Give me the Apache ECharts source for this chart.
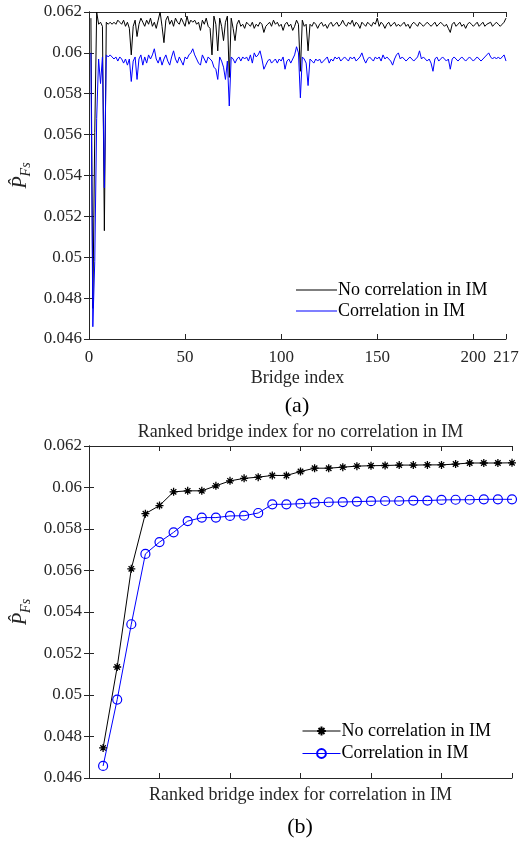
<!DOCTYPE html>
<html>
<head>
<meta charset="utf-8">
<script src="https://cdn.jsdelivr.net/npm/echarts@6/dist/echarts.min.js"></script>
<style>html,body{margin:0;padding:0;background:#fff;}#c{width:523px;height:842px;}</style>
</head>
<body>
<div id="c"></div>
<script>
// ---- Data (a): P_Fs per bridge, index 1..217 ----
const noCorrA = [
0.0617,0.0475,0.0561,0.0620,0.0614,0.0615,0.0613,0.0513,0.0615,0.0614,
0.0615,0.0614,0.0615,0.0614,0.0616,0.0615,0.0614,0.0616,0.0613,0.0615,
0.0612,0.0599,0.0613,0.0616,0.0608,0.0614,0.0617,0.0615,0.0613,0.0616,
0.0614,0.0617,0.0613,0.0615,0.0612,0.0616,0.0620,0.0613,0.0605,0.0616,
0.0618,0.0614,0.0616,0.0613,0.0617,0.0615,0.0614,0.0617,0.0615,0.0613,
0.0618,0.0614,0.0616,0.0615,0.0616,0.0614,0.0615,0.0611,0.0616,0.0614,
0.0617,0.0613,0.0612,0.0599,0.0618,0.0614,0.0601,0.0617,0.0613,0.0606,
0.0615,0.0618,0.0588,0.0617,0.0612,0.0606,0.0614,0.0616,0.0613,0.0614,
0.0612,0.0615,0.0614,0.0613,0.0615,0.0612,0.0614,0.0613,0.0615,0.0614,
0.0610,0.0613,0.0614,0.0615,0.0613,0.0616,0.0614,0.0615,0.0613,0.0614,
0.0611,0.0614,0.0615,0.0613,0.0614,0.0611,0.0613,0.0616,0.0614,0.0591,
0.0616,0.0613,0.0614,0.0601,0.0614,0.0613,0.0615,0.0614,0.0612,0.0614,
0.0615,0.0613,0.0614,0.0612,0.0614,0.0615,0.0613,0.0614,0.0615,0.0613,
0.0614,0.0616,0.0614,0.0613,0.0615,0.0614,0.0616,0.0613,0.0615,0.0614,
0.0612,0.0615,0.0614,0.0613,0.0615,0.0614,0.0613,0.0615,0.0614,0.0617,
0.0613,0.0615,0.0614,0.0612,0.0614,0.0615,0.0613,0.0614,0.0615,0.0613,
0.0614,0.0613,0.0614,0.0615,0.0613,0.0614,0.0612,0.0614,0.0615,0.0614,
0.0613,0.0615,0.0614,0.0613,0.0614,0.0615,0.0614,0.0613,0.0614,0.0615,
0.0613,0.0614,0.0615,0.0614,0.0613,0.0614,0.0612,0.0610,0.0614,0.0615,
0.0613,0.0614,0.0615,0.0613,0.0614,0.0612,0.0614,0.0615,0.0614,0.0613,
0.0614,0.0615,0.0613,0.0614,0.0615,0.0613,0.0614,0.0614,0.0615,0.0613,
0.0614,0.0615,0.0614,0.0613,0.0614,0.0615,0.0617
];
const corrA = [
0.0600,0.0466,0.0498,0.0568,0.0597,0.0585,0.0598,0.0534,0.0599,0.0598,
0.0599,0.0598,0.0597,0.0598,0.0596,0.0598,0.0597,0.0595,0.0597,0.0594,
0.0597,0.0586,0.0596,0.0598,0.0587,0.0597,0.0599,0.0594,0.0598,0.0595,
0.0599,0.0597,0.0599,0.0602,0.0597,0.0595,0.0598,0.0594,0.0597,0.0599,
0.0596,0.0594,0.0598,0.0601,0.0597,0.0595,0.0598,0.0596,0.0594,0.0598,
0.0597,0.0599,0.0600,0.0602,0.0599,0.0597,0.0595,0.0594,0.0599,0.0597,
0.0595,0.0598,0.0597,0.0596,0.0593,0.0592,0.0587,0.0598,0.0596,0.0593,
0.0587,0.0596,0.0574,0.0598,0.0597,0.0595,0.0597,0.0598,0.0596,0.0598,
0.0597,0.0598,0.0596,0.0599,0.0595,0.0600,0.0598,0.0599,0.0601,0.0597,
0.0592,0.0594,0.0596,0.0597,0.0595,0.0596,0.0597,0.0595,0.0597,0.0596,
0.0598,0.0592,0.0596,0.0597,0.0595,0.0597,0.0599,0.0603,0.0600,0.0578,
0.0598,0.0597,0.0595,0.0584,0.0597,0.0596,0.0595,0.0597,0.0596,0.0597,
0.0595,0.0596,0.0597,0.0598,0.0595,0.0597,0.0596,0.0598,0.0597,0.0598,
0.0596,0.0597,0.0598,0.0597,0.0596,0.0598,0.0597,0.0598,0.0596,0.0597,
0.0598,0.0600,0.0597,0.0595,0.0597,0.0598,0.0597,0.0596,0.0598,0.0597,
0.0598,0.0596,0.0599,0.0597,0.0598,0.0597,0.0596,0.0594,0.0597,0.0599,
0.0600,0.0597,0.0598,0.0597,0.0596,0.0597,0.0598,0.0597,0.0596,0.0597,
0.0598,0.0601,0.0597,0.0598,0.0597,0.0596,0.0597,0.0595,0.0591,0.0597,
0.0598,0.0596,0.0597,0.0598,0.0597,0.0596,0.0597,0.0592,0.0597,0.0598,
0.0597,0.0596,0.0597,0.0598,0.0597,0.0596,0.0597,0.0598,0.0597,0.0596,
0.0597,0.0598,0.0597,0.0596,0.0597,0.0598,0.0599,0.0600,0.0598,0.0597,
0.0598,0.0597,0.0598,0.0597,0.0598,0.0599,0.0596
];
// ---- Data (b): ranked values, rank 1..30 ----
const rankIdx = [1,2,3,4,5,6,7,8,9,10,11,12,13,14,15,16,17,18,19,20,21,22,23,24,25,26,27,28,29,30];
const noCorrB = [0.04745,0.05135,0.05608,0.05874,0.05913,0.05979,0.05984,0.05984,0.06008,0.06032,
0.06044,0.06050,0.06058,0.06058,0.06077,0.06093,0.06093,0.06098,0.06103,0.06105,
0.06106,0.06108,0.06108,0.06109,0.06109,0.06113,0.06118,0.06118,0.06118,0.06119];
const corrB = [0.04658,0.04978,0.05341,0.05680,0.05737,0.05784,0.05838,0.05855,0.05855,0.05863,
0.05864,0.05877,0.05919,0.05919,0.05922,0.05926,0.05929,0.05930,0.05932,0.05934,
0.05935,0.05935,0.05937,0.05937,0.05940,0.05941,0.05941,0.05943,0.05943,0.05943];
const yTicks = [0.046,0.048,0.05,0.052,0.054,0.056,0.058,0.06,0.062];
const nameNo = 'No correlation in IM';
const nameCo = 'Correlation in IM';

const bridgeIdx = noCorrA.map((_, i) => i + 1);
const FONT = 'Liberation Serif';
const AX = '#262626';

const yFmt = v => String(Number(v.toFixed(3)));
function yAx(grid, left) {
  return {
    type: 'value', gridIndex: grid, position: left ? 'left' : 'right',
    min: yTicks[0], max: yTicks[yTicks.length - 1], interval: 0.002,
    axisLine: { show: true, lineStyle: { color: AX, width: 1 } },
    axisTick: { show: true, inside: true, length: 5, lineStyle: { color: AX } },
    axisLabel: { show: left, formatter: yFmt, fontFamily: FONT, fontSize: 17, color: AX, margin: 7 },
    splitLine: { show: false },
    name: left ? '{p|P\u0302}{s|Fs}' : '',
    nameLocation: 'middle', nameRotate: 90, nameGap: 40,
    nameTextStyle: { rich: {
      p: { fontFamily: FONT, fontStyle: 'italic', fontSize: 20, lineHeight: 24, color: AX },
      s: { fontFamily: FONT, fontStyle: 'italic', fontSize: 14, lineHeight: 10, verticalAlign: 'bottom', color: AX }
    } }
  };
}
function xAx(grid, pos, opt) {
  return Object.assign({
    type: 'value', gridIndex: grid, position: pos,
    axisLine: { show: true, onZero: false, lineStyle: { color: AX, width: 1 } },
    axisTick: { show: true, inside: true, length: 5, lineStyle: { color: AX } },
    axisLabel: { show: false },
    splitLine: { show: false },
    nameLocation: 'middle',
    nameTextStyle: { fontFamily: FONT, fontSize: 18, color: AX }
  }, opt);
}
const starPath = 'path://M0,5L10,5M5,0L5,10M1.6,1.6L8.4,8.4M8.4,1.6L1.6,8.4';
const lineIcon = 'path://M0,0L41,0L41,1.2L0,1.2Z';

const chart = echarts.init(document.getElementById('c'), null, { renderer: 'canvas' });
chart.setOption({
  animation: false,
  backgroundColor: '#fff',
  grid: [
    { left: 89, right: 17, top: 12, bottom: 503 },
    { left: 89, right: 11, top: 446, bottom: 64 }
  ],
  xAxis: [
    xAx(0, 'bottom', { min: 0, max: 217, interval: 50, name: 'Bridge index', nameGap: 30,
      axisLabel: { show: true, fontFamily: FONT, fontSize: 17, color: AX, margin: 10, showMaxLabel: true } }),
    xAx(0, 'top', { min: 0, max: 217, interval: 50 }),
    xAx(1, 'bottom', { min: 0, max: 30, interval: 5, name: 'Ranked bridge index for correlation in IM', nameGap: 8 }),
    xAx(1, 'top', { min: 0, max: 30, interval: 5, name: 'Ranked bridge index for no correlation in IM', nameGap: 5 })
  ],
  yAxis: [yAx(0, true), yAx(0, false), yAx(1, true), yAx(1, false)],
  legend: [
    { orient: 'vertical', left: 296, top: 281, padding: 0, itemWidth: 41, itemHeight: 14, itemGap: 3,
      data: [{ name: nameNo, icon: lineIcon }, { name: nameCo, icon: lineIcon }], selectedMode: false,
      textStyle: { fontFamily: FONT, fontSize: 18, color: '#000', padding: [0, 0, 0, -4] } },
    { orient: 'vertical', left: 302, top: 722, padding: 0, itemWidth: 38, itemHeight: 11, itemGap: 4.5,
      data: ['b:' + nameNo, 'b:' + nameCo], selectedMode: false,
      lineStyle: { width: 1 },
      formatter: n => n.replace(/^b:/, ''),
      textStyle: { fontFamily: FONT, fontSize: 18, color: '#000', padding: [0, 0, 0, -4] } }
  ],
  series: [
    { type: 'line', name: nameNo, xAxisIndex: 0, yAxisIndex: 0, showSymbol: false, symbol: 'none',
      data: bridgeIdx.map((x, i) => [x, noCorrA[i]]), lineStyle: { color: '#000', width: 1 }, itemStyle: { color: '#000' } },
    { type: 'line', name: nameCo, xAxisIndex: 0, yAxisIndex: 0, showSymbol: false, symbol: 'none',
      data: bridgeIdx.map((x, i) => [x, corrA[i]]), lineStyle: { color: '#0000ff', width: 1 }, itemStyle: { color: '#0000ff' } },
    { type: 'line', name: 'b:' + nameNo, xAxisIndex: 2, yAxisIndex: 2, symbol: starPath, symbolSize: 8,
      data: rankIdx.map((x, i) => [x, noCorrB[i]]), lineStyle: { color: '#000', width: 1 },
      itemStyle: { color: '#000', borderColor: '#000', borderWidth: 1.3 } },
    { type: 'line', name: 'b:' + nameCo, xAxisIndex: 2, yAxisIndex: 2, symbol: 'circle', symbolSize: 9,
      data: rankIdx.map((x, i) => [x, corrB[i]]), lineStyle: { color: '#0000ff', width: 1 },
      itemStyle: { color: 'rgba(0,0,0,0)', borderColor: '#0000ff', borderWidth: 1.2 } }
  ],
  graphic: [
    { type: 'text', x: 297, y: 406, style: { text: '(a)', font: '22px "Liberation Serif"', fill: '#000', align: 'center', verticalAlign: 'middle' } },
    { type: 'text', x: 300, y: 827, style: { text: '(b)', font: '22px "Liberation Serif"', fill: '#000', align: 'center', verticalAlign: 'middle' } }
  ]
});
</script>
</body>
</html>
